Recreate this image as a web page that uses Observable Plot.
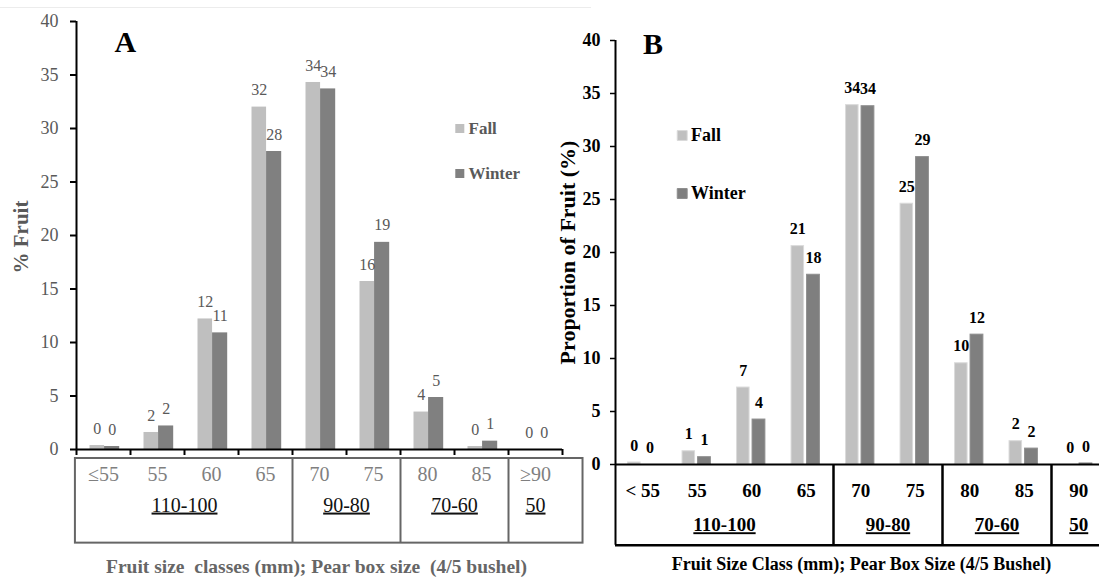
<!DOCTYPE html>
<html><head><meta charset="utf-8">
<script src="https://cdn.jsdelivr.net/npm/d3@7"></script>
<script src="https://cdn.jsdelivr.net/npm/@observablehq/plot@0.6"></script>
<style>
html,body{margin:0;padding:0;background:#fff;}
#wrap{position:relative;width:1099px;height:577px;overflow:hidden;background:#fff;}
#topline{position:absolute;left:0;top:7px;width:591px;height:1px;background:#ececec;}
#pa{position:absolute;left:0;top:0;width:600px;height:577px;}
#pb{position:absolute;left:540px;top:0;width:559px;height:577px;}
</style></head>
<body>
<div id="wrap"><div id="topline"></div><div id="pa"></div><div id="pb"></div></div>
<script>
// ---------- data ----------
const categoriesA = ["≤55","55","60","65","70","75","80","85","≥90"];
const categoriesB = ["< 55","55","60","65","70","75","80","85","90"];
const seasons = ["Fall","Winter"];
const fallA   = [0.37, 1.59, 12.2, 32.0, 34.3, 15.7, 3.5, 0.28, 0];
const winterA = [0.28, 2.2, 10.9, 27.85, 33.7, 19.36, 4.86, 0.78, 0];
const fallB   = [0.19, 1.25, 7.26, 20.6, 33.9, 24.6, 9.55, 2.2, 0];
const winterB = [0, 0.69, 4.24, 17.9, 33.8, 29.0, 12.25, 1.5, 0.1];
const boxGroups = ["110-100","90-80","70-60","50"];
const boxGroupSizes = [4, 2, 2, 1];
const yTicks = [0, 5, 10, 15, 20, 25, 30, 35, 40];
const titleA = "Fruit size  classes (mm); Pear box size  (4/5 bushel)";
const titleB = "Fruit Size Class (mm); Pear Box Size (4/5 Bushel)";
const yTitleA = "% Fruit";
const yTitleB = "Proportion of Fruit (%)";

// ---------- helpers ----------
const rows = (cats, fall, winter) => cats.flatMap((c, i) => [
  {cat: c, i, season: "Fall", v: fall[i]},
  {cat: c, i, season: "Winter", v: winter[i]}
]);
const spans = [];
{ let s = 0; boxGroups.forEach((g, k) => { spans.push({g, start: s, end: s + boxGroupSizes[k]}); s += boxGroupSizes[k]; }); }
const dividers = spans.slice(1).map(d => d.start);
const nCat = categoriesA.length;
const serif = "'Liberation Serif','Times New Roman',serif";
const T = {textAnchor: "middle", lineAnchor: "middle"};

// ---------- Panel A ----------
const dataA = rows(categoriesA, fallA, winterA);
const posA = {Fall: [0.25, 0.52], Winter: [0.52, 0.80]};
const gA = "#595959";
const pxA = 40 / (449.3 - 21);
const plotA = Plot.plot({
  width: 600, height: 577,
  marginTop: 21, marginBottom: 128, marginLeft: 76, marginRight: 38,
  x: {domain: [0, nCat], axis: null},
  y: {domain: [0, 40], axis: null},
  color: {domain: seasons, range: ["#bfbfbf", "#808080"]},
  style: {fontFamily: serif, background: "transparent", whiteSpace: "pre"},
  marks: [
    Plot.rectY(dataA, {x1: d => d.i + posA[d.season][0], x2: d => d.i + posA[d.season][1], y: "v", fill: "season"}),
    Plot.text(dataA, {...T, x: d => d.i + (posA[d.season][0] + posA[d.season][1]) / 2, y: "v",
      text: d => String(Math.round(d.v)), dy: -17, fontSize: 16, fill: gA}),
    Plot.ruleX([0], {y1: 0, y2: 40, stroke: "#000", strokeWidth: 2}),
    Plot.ruleY([0], {x1: 0, x2: nCat, stroke: "#000", strokeWidth: 2}),
    Plot.axisY({ticks: yTicks, tickSize: 6, tickPadding: 12, fontSize: 18, stroke: "#000", strokeWidth: 2, fill: gA, label: null}),
    Plot.axisX({ticks: d3.range(0, nCat + 1), tickSize: 6, stroke: "#000", strokeWidth: 2, fill: "none", tickFormat: () => "", label: null}),
    // table box
    Plot.rect([0], {x1: -0.02, x2: 9.38, y1: -9 * pxA, y2: -93.7 * pxA, fill: "none", stroke: "#666", strokeWidth: 2}),
    Plot.ruleX(dividers, {x: d => d, y1: -9 * pxA, y2: -93.7 * pxA, stroke: "#666", strokeWidth: 2}),
    Plot.text(categoriesA, {...T, x: (d, i) => i + 0.5, y: -25.2 * pxA, text: d => d, fontSize: 20, fill: "#7f7f7f"}),
    Plot.text(spans, {...T, x: d => (d.start + d.end) / 2, y: -55.7 * pxA, text: "g", fontSize: 20, fill: "#111"}),
    // titles
    Plot.text([titleA], {...T, frameAnchor: "bottom", text: d => d, dx: -3, dy: 117.7, fontSize: 19.5, fontWeight: "bold", fill: "#666"}),
    Plot.text([yTitleA], {...T, frameAnchor: "left", text: d => d, rotate: -90, dx: -55.5, dy: 1.5, fontSize: 21, fontWeight: "bold", fill: gA}),
    Plot.text(["A"], {frameAnchor: "top-left", text: d => d, dx: 38, dy: 21, textAnchor: "start", lineAnchor: "middle", fontSize: 30, fontWeight: "bold", fill: "#000"}),
    // legend
    ...seasons.map((s, k) => Plot.dot([s], {frameAnchor: "top-left", dx: 383.3, dy: 107 + k * 45, symbol: "square", r: 5.1, fill: k ? "#808080" : "#bfbfbf"})),
    ...seasons.map((s, k) => Plot.text([s], {frameAnchor: "top-left", text: d => d, dx: 392, dy: 107 + k * 45, textAnchor: "start", lineAnchor: "middle", fontSize: 17, fontWeight: "bold", fill: gA}))
  ]
});
document.getElementById("pa").appendChild(plotA);

// ---------- Panel B ----------
const dataB = rows(categoriesB, fallB, winterB);
const posB = {Fall: [0.23, 0.46], Winter: [0.515, 0.75]};
const pxB = 40 / (464.3 - 40);
const boxBottomB = -80.7 * pxB;
const plotB = Plot.plot({
  width: 559, height: 577,
  marginTop: 40, marginBottom: 113, marginLeft: 75, marginRight: 0,
  x: {domain: [0, (1099 - 615) / 54.5], axis: null},
  y: {domain: [0, 40], axis: null},
  color: {domain: seasons, range: ["#c0c0c0", "#7f7f7f"]},
  style: {fontFamily: serif, background: "transparent"},
  marks: [
    Plot.rectY(dataB, {x1: d => d.i + posB[d.season][0], x2: d => d.i + posB[d.season][1], y: "v", fill: "season",
      stroke: d => d.season === "Fall" ? "#dadada" : "#8e8e8e", strokeWidth: 1}),
    Plot.text(dataB, {...T, x: d => d.i + (posB[d.season][0] + posB[d.season][1]) / 2, y: "v",
      text: d => String(Math.round(d.v)), dy: -17, fontSize: 16, fontWeight: "bold", fill: "#000"}),
    Plot.ruleX([0], {y1: boxBottomB, y2: 40, stroke: "#000", strokeWidth: 2}),
    Plot.ruleY([0], {x1: 0, x2: 9.5, stroke: "#000", strokeWidth: 2}),
    Plot.ruleY([boxBottomB], {x1: 0, x2: 9.5, stroke: "#000", strokeWidth: 2.5}),
    Plot.ruleX(dividers, {x: d => d, y1: boxBottomB, y2: 0, stroke: "#000", strokeWidth: 2.5}),
    Plot.axisY({ticks: yTicks, tickSize: 5, tickPadding: 10, fontSize: 18, fontWeight: "bold", stroke: "#000", strokeWidth: 1.5, fill: "#000", label: null}),
    Plot.text(categoriesB, {...T, x: (d, i) => i + 0.5, y: -26.2 * pxB, text: d => d, fontSize: 19, fontWeight: "bold", fill: "#000"}),
    Plot.text(spans, {...T, x: d => (d.start + d.end) / 2, y: -60.7 * pxB, text: "g", fontSize: 19, fontWeight: "bold", fill: "#000"}),
    Plot.text([titleB], {...T, frameAnchor: "bottom", text: d => d, dx: 4, dy: 99.7, fontSize: 18, fontWeight: "bold", fill: "#000"}),
    Plot.text([yTitleB], {...T, frameAnchor: "left", text: d => d, rotate: -90, dx: -48, dy: 0, fontSize: 22, fontWeight: "bold", fill: "#000"}),
    Plot.text(["B"], {frameAnchor: "top-left", text: d => d, dx: 27.5, dy: 3.7, textAnchor: "start", lineAnchor: "middle", fontSize: 30, fontWeight: "bold", fill: "#000"}),
    ...seasons.map((s, k) => Plot.dot([s], {frameAnchor: "top-left", dx: 66.7, dy: 95 + k * 58, symbol: "square", r: 5.6,
      fill: k ? "#7f7f7f" : "#c0c0c0", stroke: k ? "#8e8e8e" : "#dadada", strokeWidth: 1})),
    ...seasons.map((s, k) => Plot.text([s], {frameAnchor: "top-left", text: d => d, dx: 75.6, dy: 95 + k * 58, textAnchor: "start", lineAnchor: "middle", fontSize: 18, fontWeight: "bold", fill: "#000"}))
  ]
});
document.getElementById("pb").appendChild(plotB);

// underline the box-size group labels
for (const svg of [plotA, plotB]) {
  svg.querySelectorAll("text").forEach(t => {
    if (boxGroups.includes(t.textContent.trim())) t.setAttribute("text-decoration", "underline");
  });
}
</script>
</body></html>
